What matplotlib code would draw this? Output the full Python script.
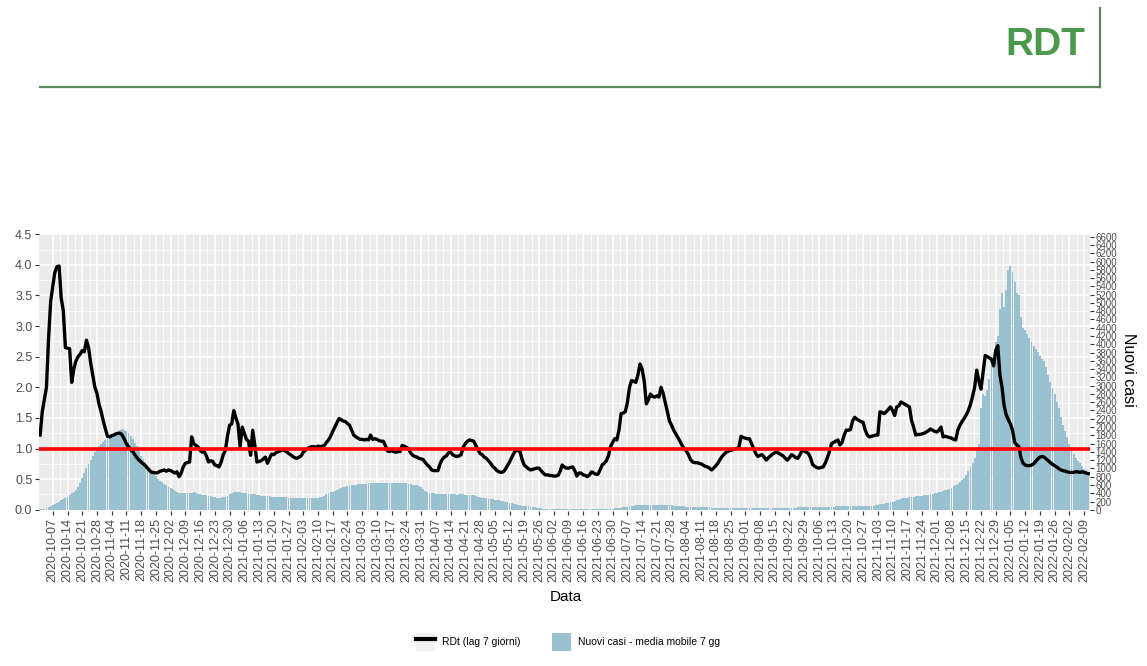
import numpy as np
import pandas as pd
import matplotlib
matplotlib.use("Agg")
import matplotlib.pyplot as plt
import matplotlib.dates as mdates
from matplotlib.lines import Line2D
from matplotlib.patches import Patch
from matplotlib.legend_handler import HandlerTuple

plt.rcParams['font.family'] = ['Liberation Sans', 'DejaVu Sans']

# daily series, first day 2020-10-01
start_date = "2020-10-01"

# RDt (lag 7 giorni)
rdt = [1.22, 1.60,
       1.80, 2.00, 2.80, 3.40, 3.65, 3.88, 3.97,
       3.98, 3.46, 3.25, 2.65, 2.64, 2.63, 2.08,
       2.30, 2.43, 2.50, 2.54, 2.60, 2.58, 2.77,
       2.65, 2.40, 2.20, 2.00, 1.90, 1.72, 1.60,
       1.45, 1.32, 1.20, 1.19, 1.21, 1.22, 1.24,
       1.25, 1.25, 1.22, 1.15, 1.08, 1.03, 0.98,
       0.95, 0.90, 0.85, 0.81, 0.78, 0.75, 0.72,
       0.68, 0.64, 0.61, 0.61, 0.60, 0.61, 0.63,
       0.64, 0.65, 0.63, 0.65, 0.64, 0.62, 0.60,
       0.62, 0.54, 0.60, 0.70, 0.76, 0.77, 0.78,
       1.19, 1.08, 1.05, 1.03, 0.97, 0.94, 0.95,
       0.88, 0.78, 0.80, 0.79, 0.73, 0.72, 0.70,
       0.78, 0.90, 0.97, 1.20, 1.38, 1.40, 1.62,
       1.50, 1.40, 1.03, 1.35, 1.25, 1.15, 1.12,
       0.89, 1.30, 1.05, 0.78, 0.79, 0.80, 0.83,
       0.86, 0.76, 0.84, 0.91, 0.90, 0.93, 0.95,
       0.96, 0.98, 0.97, 0.95, 0.92, 0.90, 0.87,
       0.85, 0.84, 0.86, 0.88, 0.94, 0.97, 1.00,
       1.02, 1.03, 1.03, 1.02, 1.04, 1.03, 1.04,
       1.05, 1.10, 1.14, 1.20, 1.28, 1.35, 1.42,
       1.49, 1.47, 1.45, 1.44, 1.41, 1.38, 1.30,
       1.22, 1.19, 1.17, 1.15, 1.15, 1.14, 1.15,
       1.14, 1.22, 1.15, 1.16, 1.15, 1.13, 1.12,
       1.12, 1.05, 0.96, 0.95, 0.97, 0.95, 0.94,
       0.95, 0.95, 1.05, 1.04, 1.02, 1.00, 0.93,
       0.89, 0.87, 0.86, 0.84, 0.83, 0.82, 0.77,
       0.73, 0.70, 0.65, 0.64, 0.64, 0.64, 0.75,
       0.82, 0.86, 0.88, 0.93, 0.94, 0.90, 0.88,
       0.87, 0.88, 0.90, 1.02, 1.08, 1.12, 1.14,
       1.13, 1.12, 1.05, 0.98, 0.92, 0.90, 0.86,
       0.84, 0.80, 0.76, 0.71, 0.68, 0.64, 0.62,
       0.61, 0.62, 0.66, 0.72, 0.78, 0.85, 0.92,
       0.97, 0.97, 0.95, 0.82, 0.73, 0.70, 0.67,
       0.65, 0.66, 0.67, 0.68, 0.68, 0.64, 0.60,
       0.57, 0.57, 0.56, 0.56, 0.55, 0.55, 0.56,
       0.62, 0.73, 0.70, 0.68, 0.68, 0.69, 0.70,
       0.64, 0.55, 0.60, 0.60, 0.57, 0.56, 0.54,
       0.57, 0.62, 0.60, 0.58, 0.58, 0.65, 0.73,
       0.76, 0.80, 0.88, 1.03, 1.10, 1.16, 1.14,
       1.30, 1.57, 1.58, 1.60, 1.75, 2.00, 2.11,
       2.10, 2.08, 2.20, 2.38, 2.30, 2.10, 1.73,
       1.80, 1.89, 1.85, 1.84, 1.86, 1.84, 2.00,
       1.90, 1.75, 1.60, 1.45, 1.38, 1.30, 1.24,
       1.18, 1.12, 1.05, 1.00, 0.96, 0.90, 0.82,
       0.78, 0.77, 0.77, 0.76, 0.75, 0.73, 0.71,
       0.70, 0.68, 0.65, 0.68, 0.72, 0.76, 0.82,
       0.87, 0.91, 0.94, 0.96, 0.97, 0.98, 0.99,
       1.00, 1.02, 1.20, 1.18, 1.17, 1.16, 1.16,
       1.08, 1.00, 0.92, 0.87, 0.89, 0.90, 0.86,
       0.81, 0.85, 0.88, 0.91, 0.93, 0.94, 0.92,
       0.90, 0.88, 0.84, 0.81, 0.85, 0.90, 0.88,
       0.85, 0.84, 0.90, 0.97, 0.96, 0.94, 0.92,
       0.85, 0.74, 0.71, 0.69, 0.68, 0.69, 0.70,
       0.76, 0.85, 0.95, 1.08, 1.10, 1.12, 1.14,
       1.06, 1.10, 1.22, 1.30, 1.30, 1.31, 1.45,
       1.51, 1.48, 1.46, 1.44, 1.43, 1.30, 1.22,
       1.19, 1.20, 1.21, 1.22, 1.22, 1.60, 1.59,
       1.57, 1.60, 1.64, 1.68, 1.62, 1.54, 1.68,
       1.70, 1.76, 1.74, 1.72, 1.70, 1.68, 1.46,
       1.35, 1.22, 1.23, 1.23, 1.24, 1.25, 1.27,
       1.29, 1.32, 1.30, 1.28, 1.27, 1.30, 1.35,
       1.19, 1.20, 1.19, 1.18, 1.17, 1.15, 1.14,
       1.30, 1.38, 1.44, 1.49, 1.55, 1.62, 1.72,
       1.85, 2.00, 2.28, 2.10, 1.97, 2.25, 2.52,
       2.50, 2.48, 2.46, 2.35, 2.60, 2.68, 2.20,
       2.00, 1.70, 1.55, 1.47, 1.40, 1.30, 1.10,
       1.06, 1.03, 0.85, 0.76, 0.73, 0.72, 0.72,
       0.73, 0.75, 0.79, 0.83, 0.86, 0.87, 0.86,
       0.83, 0.80, 0.77, 0.74, 0.72, 0.70, 0.67,
       0.65, 0.64, 0.63, 0.62, 0.61, 0.61, 0.61,
       0.62, 0.62, 0.61, 0.62, 0.61, 0.60, 0.59]

# Nuovi casi - media mobile 7 gg
nuovi_casi = [10, 15,
              20, 40, 70, 100, 120, 140, 170,
              200, 230, 260, 285, 320, 360, 400,
              430, 480, 560, 650, 760, 880, 1000,
              1110, 1210, 1310, 1400, 1470, 1540, 1600,
              1650, 1690, 1720, 1760, 1790, 1810, 1830,
              1880, 1920, 1945, 1930, 1900, 1850, 1780,
              1700, 1625, 1530, 1420, 1300, 1220, 1150,
              1080, 1010, 950, 880, 810, 750, 700,
              660, 620, 590, 560, 530, 500, 460,
              420, 400, 395, 400, 410, 405, 400,
              415, 420, 410, 380, 370, 365, 360,
              350, 340, 330, 315, 300, 290, 285,
              295, 310, 320, 340, 370, 400, 420,
              430, 440, 425, 415, 410, 400, 390,
              380, 375, 370, 360, 350, 345, 340,
              335, 330, 325, 320, 318, 316, 312,
              310, 305, 300, 298, 295, 292, 290,
              288, 285, 282, 280, 282, 285, 290,
              285, 280, 282, 285, 290, 300, 320,
              345, 370, 395, 420, 440, 460, 480,
              500, 520, 540, 555, 570, 585, 595,
              605, 610, 620, 625, 630, 630, 635,
              640, 645, 645, 650, 650, 655, 650,
              650, 645, 650, 655, 650, 645, 650,
              655, 650, 648, 645, 640, 630, 620,
              610, 600, 590, 570, 540, 500, 460,
              430, 410, 400, 395, 390, 385, 380,
              375, 372, 370, 370, 372, 375, 370,
              368, 370, 372, 370, 368, 365, 362,
              360, 350, 335, 320, 305, 290, 282,
              280, 270, 260, 250, 240, 232, 225,
              215, 208, 200, 190, 175, 160, 145,
              130, 120, 110, 100, 95, 88, 80,
              72, 65, 58, 50, 42, 36, 30,
              26, 22, 20, 18, 16, 15, 14,
              13, 12, 12, 11, 11, 10, 10,
              10, 10, 9, 9, 9, 9, 9,
              9, 10, 10, 11, 12, 13, 14,
              16, 18, 20, 24, 28, 33, 38,
              45, 52, 60, 68, 76, 84, 92,
              98, 104, 110, 114, 118, 120, 122,
              124, 125, 125, 124, 123, 122, 120,
              118, 116, 114, 110, 106, 102, 98,
              94, 90, 86, 82, 78, 75, 72,
              70, 68, 66, 64, 62, 60, 58,
              56, 55, 54, 53, 52, 52, 51,
              50, 50, 50, 49, 48, 48, 47,
              47, 46, 46, 45, 45, 45, 44,
              44, 44, 43, 43, 43, 42, 42,
              42, 42, 42, 43, 43, 44, 45,
              45, 46, 47, 48, 49, 50, 52,
              53, 55, 56, 58, 60, 62, 64,
              66, 68, 70, 72, 73, 74, 75,
              76, 77, 78, 78, 79, 80, 80,
              80, 80, 81, 82, 82, 83, 84,
              84, 85, 86, 86, 87, 88, 90,
              92, 95, 100, 108, 118, 128, 140,
              150, 160, 172, 186, 200, 215, 232,
              248, 262, 275, 285, 295, 302, 310,
              318, 325, 332, 338, 343, 348, 355,
              362, 372, 382, 395, 410, 425, 440,
              455, 470, 490, 510, 535, 565, 595,
              630, 670, 720, 780, 850, 940, 1040,
              1120, 1250, 1450, 1600, 2450, 2800, 2750,
              2900, 3150, 3500, 3550, 4050, 4200, 4850,
              5250, 4900, 5300, 5800, 5900, 5750, 5500,
              5250, 5200, 4650, 4400, 4350, 4250, 4150,
              4050, 3950, 3880, 3820, 3720, 3650, 3600,
              3450, 3250, 3100, 2950, 2800, 2600, 2450,
              2250, 2050, 1900, 1750, 1600, 1450, 1350,
              1250, 1180, 1120, 1050, 990, 950, 910]

tick_dates = pd.date_range("2020-10-07", "2022-02-09", freq="7D")
tick_labels = [d.strftime("%Y-%m-%d") for d in tick_dates]
rdt_ticks = np.arange(0, 4.51, 0.5)
casi_ticks = np.arange(0, 6601, 200)

giorni = mdates.date2num(pd.date_range(start_date, periods=len(rdt), freq="D").to_pydatetime())
xt = mdates.date2num(tick_dates.to_pydatetime())

bar_col = '#9AC1CF'
txt_col = '#4D4D4D'
casi_per_rdt = 1480.0
ylo, yhi = -0.02, 4.52

fig = plt.figure(figsize=(11.47, 6.66), dpi=100)
ax = fig.add_axes([39.3 / 1147, 1 - 511 / 666, (1090 - 39.3) / 1147, (511 - 233) / 666])
ax.set_facecolor('#EBEBEB')
ax.set_xlim(giorni[0] - 0.4, giorni[-1] + 0.8)
ax.set_ylim(ylo, yhi)
ax.set_yticks(rdt_ticks)
ax.set_yticklabels([f"{v:.1f}" for v in rdt_ticks])
ax.set_yticks(rdt_ticks[:-1] + 0.25, minor=True)
ax.set_xticks(xt)
ax.set_xticklabels(tick_labels, rotation=90, fontsize=9, color=txt_col)
ax.set_xticks(xt[:-1] + 3.5, minor=True)
ax.grid(which='major', color='white', lw=1.1)
ax.grid(which='minor', color='white', lw=0.55)
ax.set_axisbelow(True)
ax.tick_params(which='major', length=3, color='#333333', labelcolor=txt_col, labelsize=9, pad=2)
ax.tick_params(which='minor', length=0)
for s in ax.spines.values():
    s.set_visible(False)

# bars on the secondary scale
ax2 = ax.twinx()
ax2.bar(giorni, nuovi_casi, width=0.9, color=bar_col, linewidth=0)
ax2.set_ylim(ylo * casi_per_rdt, yhi * casi_per_rdt)
ax2.set_yticks(casi_ticks)
ax2.tick_params(length=3, color='#333333', labelcolor=txt_col, labelsize=7, pad=1)
for s in ax2.spines.values():
    s.set_visible(False)

# line on top
ax3 = ax.twinx()
ax3.set_ylim(ylo, yhi)
ax3.set_yticks([])
ax3.plot(giorni, rdt, color='black', lw=2.4, solid_joinstyle='round', zorder=3)
ax3.axhline(1.0, color='#FF0000', lw=2.6, zorder=4)
for s in ax3.spines.values():
    s.set_visible(False)

fig.text(566 / 1147, 1 - 597 / 666, 'Data', fontsize=11, color='black', ha='center', va='center')
fig.text(1128 / 1147, 1 - 370 / 666, 'Nuovi casi', fontsize=11.5, color='black',
         rotation=270, ha='center', va='center')

line_key = (Patch(facecolor='#F2F2F2'), Line2D([0], [0], color='black', lw=3))
handles = [line_key, Patch(facecolor=bar_col)]
fig.legend(handles, ['RDt (lag 7 giorni)', 'Nuovi casi - media mobile 7 gg'],
           handler_map={tuple: HandlerTuple(ndivide=1, pad=0)},
           loc='center', bbox_to_anchor=(568 / 1147, 1 - 642 / 666), ncol=2, frameon=False,
           fontsize=7.5, handlelength=1.8, handleheight=2.2, handletextpad=0.7, columnspacing=3.0)

# slide header
fig.text(1045 / 1147, 1 - 45 / 666, 'RDT', color='#4B9A4B', fontsize=28, fontweight='bold',
         ha='center', va='center')
fig.add_artist(Line2D([40 / 1147, 1100 / 1147], [1 - 87 / 666, 1 - 87 / 666],
                      transform=fig.transFigure, color='#5A8A5A', lw=1.6))
fig.add_artist(Line2D([1100 / 1147, 1100 / 1147], [1 - 8 / 666, 1 - 87 / 666],
                      transform=fig.transFigure, color='#5A8A5A', lw=1.6))

fig.savefig('out.png', dpi=100)
